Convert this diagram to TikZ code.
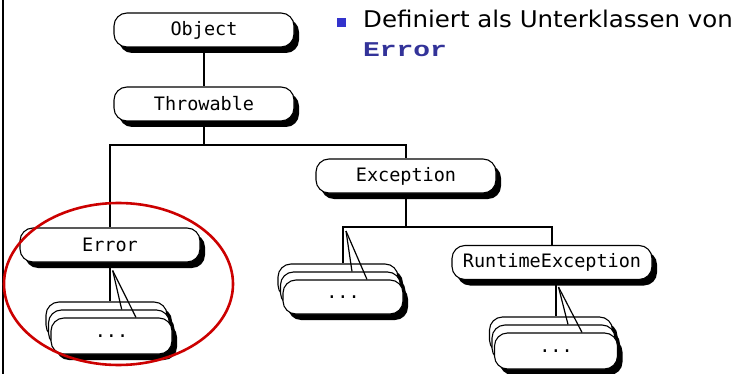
\documentclass[tikz,border=0pt]{standalone}
\usepackage{fontspec}
\setmainfont{DejaVu Sans}
\newfontfamily\boxfont{DejaVu Sans Mono}
\newfontfamily\codefont{Liberation Mono}
\usetikzlibrary{shadows,calc}
\definecolor{ringred}{RGB}{204,0,0}
\definecolor{bulletblue}{RGB}{51,51,204}
\definecolor{codeblue}{RGB}{51,51,153}
\tikzset{
  cls/.style={draw=black, line width=1.1pt, fill=white, rounded corners=13pt,
    minimum height=34pt, inner sep=0pt,
    font=\boxfont\fontsize{18.5}{18.5}\selectfont,
    general shadow={fill=black, shadow xshift=5pt, shadow yshift=-6pt}},
  link/.style={line width=1.2pt},
}
% three stacked class boxes; #1 name, #2 front-box centre, #3 width, #4 height
\newcommand\classstack[4]{%
  \node[cls, minimum width=#3, minimum height=#4] (#1C) at ($(#2)+(-5,-16)$) {};
  \node[cls, minimum width=#3, minimum height=#4] (#1B) at ($(#2)+(-2.5,-8)$) {};
  \node[cls, minimum width=#3, minimum height=#4] (#1A) at (#2) {...};
}
\begin{document}
\begin{tikzpicture}[x=1pt,y=-1pt]
\useasboundingbox (0,0) rectangle (738,374);
\fill[white] (0,0) rectangle (738,374);

% left frame edge
\draw[line width=2pt] (3,0) -- (3,374);

% class hierarchy
\node[cls, minimum width=180pt] (obj) at (204,30) {Object};
\node[cls, minimum width=180pt] (thr) at (204,104) {Throwable};
\node[cls, minimum width=180pt] (exc) at (406,176) {Exception};
\node[cls, minimum width=180pt] (err) at (110,245) {Error};
\node[cls, minimum width=200pt] (rte) at (552,262.5) {RuntimeException};

\classstack{errs}{111.5,336}{121pt}{36pt}
\classstack{excs}{343,297}{120pt}{34pt}
\classstack{rtes}{556,351}{123pt}{36pt}

\coordinate (bar1) at (204,145);
\coordinate (bar2) at (406,227);

\draw[link] (obj) -- (thr);
\draw[link] (thr.south) -- (bar1);
\draw[link] (err.north) -- (err.north |- bar1) -- (exc.north |- bar1) -- (exc.north);
\draw[link] (exc.south) -- (bar2);
\draw[link] (excsA |- excsC.north) -- (excsA |- bar2) -- (rte.north |- bar2) -- (rte.north);

% fan connectors to the stacked subclasses
\draw[link] (err.south) -- (err.south |- errsC.north);
\draw[link] ($(err.south)+(2.7,8)$) -- ($(errsB.north)+(12.7,0)$);
\draw[link] ($(err.south)+(2.7,8)$) -- ($(errsA.north)+(24.5,0)$);

\draw[link] ($(excsA |- bar2)+(3,4)$) -- ($(excsB.north)+(11.5,0)$);
\draw[link] ($(excsA |- bar2)+(3,4)$) -- ($(excsA.north)+(24,0)$);

\draw[link] (rtesA |- rte.south) -- (rtesA |- rtesC.north);
\draw[link] ($(rtesA |- rte.south)+(2.5,7)$) -- ($(rtesB.north)+(14.5,0)$);
\draw[link] ($(rtesA |- rte.south)+(2.5,7)$) -- ($(rtesA.north)+(26,0)$);

% highlight ring
\draw[ringred, line width=2.6pt] (118.5,284) ellipse [x radius=114.5, y radius=81];

% bullet text
\node[fill=bulletblue, minimum size=9pt, inner sep=0pt] (bullet) at (341.5,22.5) {};
\node[anchor=base west, inner sep=0pt, font=\fontsize{23}{23}\selectfont] (title) at (363,28)
  {\scalebox{1.065}[1]{Definiert als Unterklassen von}};
\node[anchor=base west, inner sep=0pt, text=codeblue, font=\codefont\bfseries\fontsize{21}{21}\selectfont] (code) at (363,57)
  {\scalebox{1.33}[1]{Error}};
\end{tikzpicture}
\end{document}
